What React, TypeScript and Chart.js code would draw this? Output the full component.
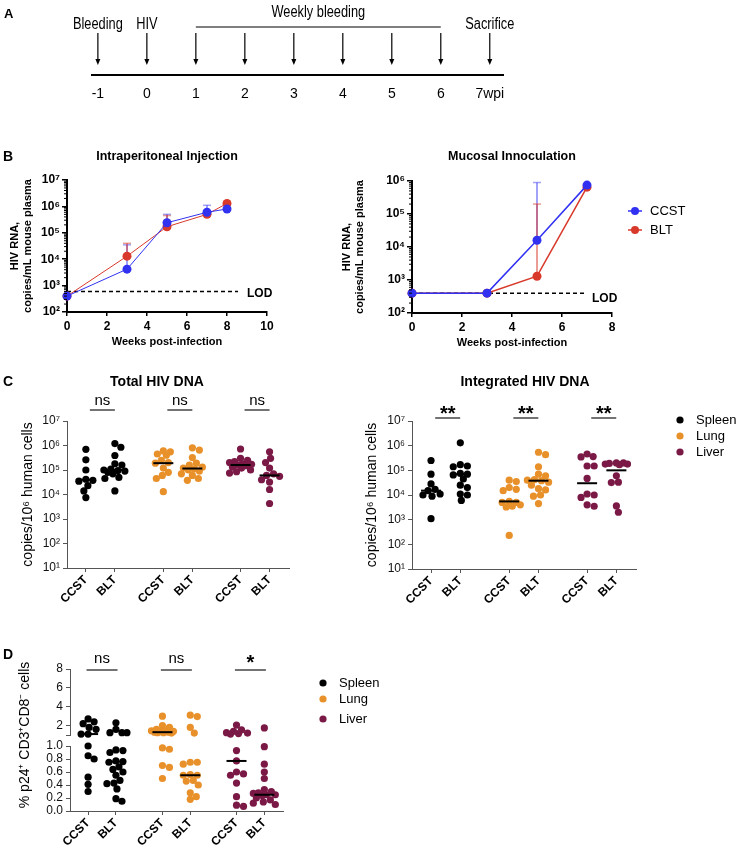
import React, { useEffect, useRef } from 'react';
import { Chart, registerables } from 'chart.js';
Chart.register(...registerables);

const W = 736;
const H = 849;
const SANS = '"Liberation Sans", Arial, Helvetica, sans-serif';
Chart.defaults.font.family = SANS;

// ---------------- Panel A: timeline ----------------
const timelineWeeks = [-1, 0, 1, 2, 3, 4, 5, 6, 7];
const timelineTickLabels = ['-1', '0', '1', '2', '3', '4', '5', '6', '7wpi'];
const eventWeeks = [-1, 0, 7];
const eventNames = ['Bleeding', 'HIV', 'Sacrifice'];
const weeklyRange = [1, 6];
const weeklyLabel = 'Weekly bleeding';

// ---------------- Panel B: HIV RNA ----------------
const weeksIP = [0, 3, 5, 7, 8];
const ccstIP = [400, 4200, 240000, 600000, 800000];
const bltIP = [400, 13000, 170000, 500000, 1300000];
const ccstIPUpper = [null, 35000, 500000, 1100000, null];
const bltIPUpper = [null, 40000, 450000, null, null];
const lodIP = 600;
const lodRangeIP = [0, 8.55];

const weeksMU = [0, 3, 5, 7];
const ccstMU = [400, 400, 16000, 750000];
const bltMU = [400, 400, 1300, 650000];
const ccstMUUpper = [null, null, 900000, null];
const bltMUUpper = [null, null, 200000, null];
const lodMU = 400;
const lodRangeMU = [0, 7];

// ---------------- Panels C / D: categories ----------------
const groupLabels = ['CCST', 'BLT', 'CCST', 'BLT', 'CCST', 'BLT'];
const groupPositions = [1, 2, 3.67, 4.67, 6.33, 7.33];
const tissueNames = ['Spleen', 'Lung', 'Liver'];
const tissueColors = ['#000000', '#E8902A', '#7B1946'];

// Total HIV DNA (copies / 10^6 human cells)
const totalSpleenCCST = [7e5, 2.6e5, 1e5, 4.2e4, 3.8e4, 3.5e4, 2.3e4, 1.4e4, 7.5e3];
const totalSpleenBLT = [1.2e6, 8.5e5, 3.9e5, 1.8e5, 1.6e5, 1.1e5, 1e5, 9.5e4, 9e4, 8e4, 7e4, 5e4, 4.5e4, 1.4e4];
const totalLungCCST = [6e5, 5.5e5, 4.5e5, 4e5, 2.5e5, 2e5, 1.9e5, 1.2e5, 8e4, 6e4, 4.5e4, 1.3e4];
const totalLungBLT = [8e5, 6.5e5, 3.2e5, 1.9e5, 1.6e5, 1.3e5, 1.2e5, 1.1e5, 1e5, 9e4, 7e4, 6e4, 4.5e4, 3.8e4];
const totalLiverCCST = [7.2e5, 3e5, 2.5e5, 2.2e5, 2e5, 1.8e5, 1.7e5, 1.6e5, 1.5e5, 1.3e5, 1.2e5, 1e5, 8.5e4, 7.5e4];
const totalLiverBLT = [5.5e5, 3e5, 2e5, 1.2e5, 7e4, 6e4, 5.5e4, 4e4, 3.2e4, 1.6e4, 4.3e3];
const totalMedians = [4e4, 1e5, 1.9e5, 1.15e5, 1.6e5, 6e4];
const totalSig = ['ns', 'ns', 'ns'];

// Integrated HIV DNA
const intSpleenCCST = [2.5e5, 7e4, 2.8e4, 1.7e4, 1.5e4, 1.1e4, 1e4, 9e3, 1.1e3];
const intSpleenBLT = [1.3e6, 1.7e5, 1.5e5, 1.4e5, 7.5e4, 7e4, 6.5e4, 4.5e4, 2.5e4, 2e4, 1.1e4, 1e4, 6e3];
const intLungCCST = [4e4, 3.5e4, 2e4, 1.7e4, 1.5e4, 5.5e3, 5e3, 5e3, 4e3, 3.5e3, 3.3e3, 230];
const intLungBLT = [5.4e5, 4.3e5, 1.4e5, 7e4, 6e4, 4.2e4, 4e4, 3.8e4, 3.3e4, 2.5e4, 1.8e4, 1.6e4, 1e4, 9e3, 4.5e3];
const intLiverCCST = [4.6e5, 3.6e5, 3.5e5, 1.5e5, 1.5e5, 4.7e4, 1.1e4, 1e4, 8e3, 4e3, 3.5e3];
const intLiverBLT = [2e5, 2e5, 1.9e5, 1.8e5, 1.8e5, 1.7e5, 6e4, 3.3e4, 3.2e4, 3.6e3, 2e3];
const intMedians = [1.5e4, 7e4, 5.5e3, 3.8e4, 3e4, 1e5];
const intSig = ['**', '**', '**'];

// % p24+ CD3+CD8- cells
const p24SpleenCCST = [2.7, 2.4, 2.2, 1.8, 1.6, 1.1, 1.1, 1.0, 0.85, 0.8, 0.52, 0.41, 0.3];
const p24SpleenBLT = [2.3, 1.6, 1.25, 1.25, 1.25, 0.94, 0.93, 0.9, 0.77, 0.76, 0.75, 0.68, 0.64, 0.6, 0.55, 0.47, 0.43, 0.42, 0.34, 0.19, 0.15];
const p24LungCCST = [3.0, 2.0, 1.8, 1.6, 1.5, 1.45, 1.4, 1.35, 1.3, 1.3, 1.25, 1.25, 1.2, 0.97, 0.95, 0.7, 0.67, 0.5];
const p24LungBLT = [3.1, 2.95, 1.8, 1.2, 0.75, 0.75, 0.72, 0.56, 0.55, 0.55, 0.47, 0.46, 0.4, 0.28, 0.22, 0.18];
const p24LiverCCST = [2.05, 1.55, 1.4, 1.25, 1.2, 1.15, 1.1, 0.93, 0.77, 0.6, 0.57, 0.55, 0.43, 0.22, 0.09, 0.07];
const p24LiverBLT = [1.75, 0.99, 0.72, 0.6, 0.5, 0.33, 0.3, 0.28, 0.27, 0.25, 0.25, 0.24, 0.2, 0.17, 0.14, 0.12, 0.1];
const p24Medians = [1.1, 0.76, 1.3, 0.55, 0.77, 0.25];
const p24Sig = ['ns', 'ns', '*'];
const p24UpperTicks = [1, 2, 4, 6, 8];
const p24LowerTicks = [0, 0.2, 0.4, 0.6, 0.8, 1.0];

// ---------------- styling / layout ----------------
const BLUE = '#3131F2';
const RED = '#D8392A';
const BLUE_ERR = 'rgba(49,49,242,0.45)';
const RED_ERR = 'rgba(216,57,42,0.5)';
const AXIS = '#555555';
const X_MIN = 0.35;
const X_MAX = 8.0;

const AREA_A = { left: 92, top: 27, right: 503, bottom: 75 };
const AREA_B1 = { left: 67, top: 180, right: 267, bottom: 312 };
const AREA_B2 = { left: 412, top: 181, right: 612, bottom: 313 };
const AREA_C1 = { left: 67, top: 421, right: 289, bottom: 568 };
const AREA_C2 = { left: 412, top: 421, right: 636, bottom: 569 };
const AREA_DU = { left: 70, top: 669, right: 283, bottom: 735 };
const AREA_DL = { left: 70, top: 746, right: 283, bottom: 811 };

const SUP: Record<string, string> = { '0': '⁰', '1': '¹', '2': '²', '3': '³', '4': '⁴', '5': '⁵', '6': '⁶', '7': '⁷', '8': '⁸', '9': '⁹' };
const pow10 = (v: number) => '10' + String(Math.round(Math.log10(v))).split('').map((c) => SUP[c] || c).join('');
const decades = (a: number, b: number) => {
  const out: number[] = [];
  for (let e = Math.round(Math.log10(a)); e <= Math.round(Math.log10(b)); e++) out.push(Math.pow(10, e));
  return out;
};

function padFor(a: any, yW: number, xH: number) {
  return { left: a.left - yW, top: a.top, right: W - a.right, bottom: H - a.bottom - xH };
}

function text(ctx: any, s: string, x: number, y: number, font: string, align = 'center', baseline = 'middle', color = '#000', rot = 0, sx = 1) {
  ctx.save();
  ctx.translate(x, y);
  if (rot) ctx.rotate(rot);
  if (sx !== 1) ctx.scale(sx, 1);
  ctx.font = font;
  ctx.fillStyle = color;
  ctx.textAlign = align;
  ctx.textBaseline = baseline;
  ctx.fillText(s, 0, 0);
  ctx.restore();
}

function seg(ctx: any, x1: number, y1: number, x2: number, y2: number, color: string, width: number) {
  ctx.save();
  ctx.strokeStyle = color;
  ctx.lineWidth = width;
  ctx.beginPath();
  ctx.moveTo(x1, y1);
  ctx.lineTo(x2, y2);
  ctx.stroke();
  ctx.restore();
}

function dot(ctx: any, x: number, y: number, r: number, color: string) {
  ctx.save();
  ctx.fillStyle = color;
  ctx.beginPath();
  ctx.arc(x, y, r, 0, Math.PI * 2);
  ctx.fill();
  ctx.restore();
}

// compact beeswarm: horizontal offsets (x units), limited spread, overlap allowed when crowded
function swarm(values: number[], toPx: (v: number) => number, pxPerUnit: number, d: number, maxOff: number) {
  const order = values.map((_, i) => i).sort((a, b) => values[b] - values[a]);
  const placed: { x: number; y: number }[] = [];
  const out = new Array(values.length).fill(0);
  for (const i of order) {
    const y = toPx(values[i]);
    let best = 0;
    let bestScore = -1;
    for (let k = 0; k <= maxOff * 2; k++) {
      const x = Math.ceil(k / 2) * (k % 2 === 1 ? 1 : -1);
      const md = placed.reduce((m, p) => Math.min(m, Math.hypot(p.x - x, p.y - y)), Infinity);
      if (md >= d) { best = x; bestScore = Infinity; break; }
      if (md > bestScore) { bestScore = md; best = x; }
    }
    placed.push({ x: best, y });
    out[i] = best / pxPerUnit;
  }
  return out;
}

const baseOpts = (area: any, yW: number, xH: number) => ({
  responsive: false,
  animation: false,
  events: [],
  layout: { padding: padFor(area, yW, xH) },
  plugins: { legend: { display: false }, tooltip: { enabled: false }, title: { display: false } },
});

// ---------------- Panel A ----------------
function configA() {
  return {
    type: 'scatter',
    data: { datasets: [{ data: timelineWeeks.map((w) => ({ x: w, y: 0.5 })), pointRadius: 0, showLine: false }] },
    options: {
      ...baseOpts(AREA_A, 0, 30),
      scales: {
        x: {
          type: 'linear', min: -1.12, max: 7.27,
          afterFit: (s: any) => { s.height = 30; },
          afterBuildTicks: (s: any) => { s.ticks = timelineWeeks.map((v) => ({ value: v })); },
          ticks: { callback: (_v: any, i: number) => timelineTickLabels[i], autoSkip: false, maxRotation: 0, font: { family: SANS, size: 14 }, color: '#000', padding: 11 },
          grid: { display: false, drawTicks: false },
          border: { display: true, color: '#000', width: 2 },
        },
        y: { display: false, min: 0, max: 1 },
      },
    },
    plugins: [{
      id: 'timeline',
      afterDraw(chart: any) {
        const ctx = chart.ctx;
        const a = chart.chartArea;
        const xs = chart.scales.x;
        const meta = chart.getDatasetMeta(0);
        const top = a.top + 6;
        const bot = a.bottom - 10;
        meta.data.forEach((el: any) => {
          seg(ctx, el.x, top, el.x, bot - 4, '#000', 1.2);
          ctx.save();
          ctx.fillStyle = '#000';
          ctx.beginPath();
          ctx.moveTo(el.x - 2.5, bot - 6);
          ctx.lineTo(el.x + 2.5, bot - 6);
          ctx.lineTo(el.x, bot);
          ctx.closePath();
          ctx.fill();
          ctx.restore();
        });
        const x1 = xs.getPixelForValue(weeklyRange[0]);
        const x2 = xs.getPixelForValue(weeklyRange[1]);
        seg(ctx, x1, a.top, x2, a.top, '#000', 1.2);
        text(ctx, weeklyLabel, (x1 + x2) / 2, a.top - 10, '16px ' + SANS, 'center', 'alphabetic', '#000', 0, 0.8);
        eventWeeks.forEach((w, i) => {
          text(ctx, eventNames[i], xs.getPixelForValue(w), a.top + 2, '16px ' + SANS, 'center', 'alphabetic', '#000', 0, 0.8);
        });
        text(ctx, 'A', 4, 14, 'bold 13px ' + SANS, 'left', 'middle');
      },
    }],
  };
}

// ---------------- Panel B ----------------
function configB(p: any) {
  const area = p.area;
  const mk = (vals: number[], color: string) => ({
    data: p.weeks.map((w: number, i: number) => ({ x: w, y: vals[i] })),
    borderColor: color, backgroundColor: color, pointBackgroundColor: color, pointBorderWidth: 0,
    pointRadius: p.r, borderWidth: p.lw, showLine: true, clip: false,
  });
  const datasets = [
    mk(p.ccst, BLUE),
    mk(p.blt, RED),
    {
      data: [{ x: p.lodRange[0], y: p.lod }, { x: p.lodRange[1], y: p.lod }],
      borderColor: '#000', borderWidth: 1.5, borderDash: [4, 3], pointRadius: 0, showLine: true, clip: false,
    },
  ];
  const bold12 = { family: SANS, size: 12, weight: 'bold' };
  return {
    type: 'scatter',
    data: { datasets },
    options: {
      ...baseOpts(area, 50, 30),
      scales: {
        x: {
          type: 'linear', min: 0, max: p.xMax,
          afterFit: (s: any) => { s.height = 30; },
          ticks: { stepSize: 2, font: bold12, color: '#000', padding: 3, maxRotation: 0 },
          grid: { drawOnChartArea: false, tickLength: 4, color: '#000', lineWidth: 1.5 },
          border: { color: '#000', width: 2 },
        },
        y: {
          type: 'logarithmic', min: p.yMin, max: p.yMax,
          afterFit: (s: any) => { s.width = 50; },
          afterBuildTicks: (s: any) => { s.ticks = decades(p.yMin, p.yMax).map((v) => ({ value: v })); },
          ticks: { callback: (v: any) => pow10(v), font: bold12, color: '#000', padding: 2, autoSkip: false },
          grid: { drawOnChartArea: false, tickLength: 5, color: '#000', lineWidth: 1.5 },
          border: { color: '#000', width: 2 },
        },
      },
    },
    plugins: [{
      id: 'hivDeco',
      beforeDatasetsDraw(chart: any) {
        const ctx = chart.ctx;
        const xs = chart.scales.x;
        const ys = chart.scales.y;
        const errs = [[p.ccst, p.ccstUp, BLUE_ERR], [p.blt, p.bltUp, RED_ERR]];
        errs.forEach(([vals, ups, col]: any) => {
          ups.forEach((u: number | null, i: number) => {
            if (u == null) return;
            const px = xs.getPixelForValue(p.weeks[i]);
            const py = ys.getPixelForValue(vals[i]);
            const pu = ys.getPixelForValue(u);
            seg(ctx, px, py, px, pu, col, 2);
            seg(ctx, px - 4, pu, px + 4, pu, col, 1.5);
          });
        });
      },
      afterDraw(chart: any) {
        const ctx = chart.ctx;
        const a = chart.chartArea;
        const xs = chart.scales.x;
        const ys = chart.scales.y;
        decades(p.yMin, p.yMax).slice(0, -1).forEach((d) => {
          for (let m = 2; m <= 9; m++) {
            const y = ys.getPixelForValue(d * m);
            seg(ctx, a.left - 3, y, a.left, y, '#000', 1);
          }
        });
        const cy = (a.top + a.bottom) / 2;
        text(ctx, p.title, p.titleX, 157, 'bold 12.5px ' + SANS);
        text(ctx, 'HIV RNA,', p.yTitleX[0], cy, 'bold 11px ' + SANS, 'center', 'middle', '#000', -Math.PI / 2);
        text(ctx, 'copies/mL mouse plasma', p.yTitleX[1], cy, 'bold 11px ' + SANS, 'center', 'middle', '#000', -Math.PI / 2);
        text(ctx, 'Weeks post-infection', (a.left + a.right) / 2, p.xTitleY, 'bold 11px ' + SANS);
        const lx = xs.getPixelForValue(p.lodRange[1]);
        const ly = ys.getPixelForValue(p.lod);
        text(ctx, 'LOD', lx + p.lodDx, ly + p.lodDy, 'bold 12px ' + SANS, 'left', 'middle');
        if (p.letter) text(ctx, 'B', 3, 157, 'bold 14px ' + SANS, 'left', 'middle');
        if (p.legend) {
          [['CCST', BLUE], ['BLT', RED]].forEach(([name, col], i) => {
            const y = 211 + i * 19;
            seg(ctx, 628, y, 642, y, col, 1.5);
            dot(ctx, 635, y, 4, col);
            text(ctx, name, 650, y, '13px ' + SANS, 'left', 'middle');
          });
        }
      },
    }],
  };
}

// ---------------- Panels C / D ----------------
function drawSig(chart: any, labels: string[], barY: number, half: number, dx: number, fonts: string[], dys: number[]) {
  const ctx = chart.ctx;
  const xs = chart.scales.x;
  labels.forEach((lab, g) => {
    const x1 = xs.getPixelForValue(groupPositions[2 * g]);
    const x2 = xs.getPixelForValue(groupPositions[2 * g + 1]);
    const cx = (x1 + x2) / 2 + dx;
    seg(ctx, cx - half, barY, cx + half, barY, '#444', 1.5);
    const isStar = lab.indexOf('*') >= 0;
    text(ctx, lab, cx, barY + (isStar ? dys[1] : dys[0]), isStar ? fonts[1] : fonts[0], 'center', 'alphabetic');
  });
}

function drawLegend(ctx: any, x: number, ys: number[]) {
  tissueNames.forEach((n, i) => {
    dot(ctx, x, ys[i], 3.6, tissueColors[i]);
    text(ctx, n, x + 16, ys[i], '13px ' + SANS, 'left', 'middle');
  });
}

function configDot(p: any) {
  const datasets = p.groups.map((vals: number[], g: number) => ({
    data: vals
      .map((v, i) => ({ x: groupPositions[g] + p.offsets[g][i], y: v }))
      .filter((pt) => p.filter(pt.y)),
    pointRadius: 3.6, pointBackgroundColor: tissueColors[g >> 1], backgroundColor: tissueColors[g >> 1],
    pointBorderWidth: 0, showLine: false, clip: false,
  }));
  const xH = p.showX ? 40 : 0;
  const xScale = p.showX
    ? {
      type: 'linear', min: X_MIN, max: X_MAX,
      afterFit: (s: any) => { s.height = 40; },
      afterBuildTicks: (s: any) => { s.ticks = groupPositions.map((v) => ({ value: v })); },
      ticks: { callback: (_v: any, i: number) => groupLabels[i], autoSkip: false, minRotation: 45, maxRotation: 45, font: { family: SANS, size: 12, weight: 'bold' }, color: '#000', padding: 1 },
      grid: { drawOnChartArea: false, tickLength: 4, color: AXIS, lineWidth: 1 },
      border: { color: AXIS, width: 1 },
    }
    : { type: 'linear', min: X_MIN, max: X_MAX, display: false };
  return {
    type: 'scatter',
    data: { datasets },
    options: {
      ...baseOpts(p.area, 50, xH),
      scales: {
        x: xScale,
        y: {
          type: p.yType, min: p.yMin, max: p.yMax,
          afterFit: (s: any) => { s.width = 50; },
          afterBuildTicks: (s: any) => { s.ticks = p.yTicks.map((v: number) => ({ value: v })); },
          ticks: { callback: (v: any) => p.yFmt(v), autoSkip: false, font: { family: SANS, size: p.tickSize }, color: '#111', padding: 3 },
          grid: { drawOnChartArea: false, tickLength: 4, color: AXIS, lineWidth: 1 },
          border: { color: AXIS, width: 1 },
        },
      },
    },
    plugins: [{
      id: 'dotDeco',
      afterDatasetsDraw(chart: any) {
        const xs = chart.scales.x;
        const ys = chart.scales.y;
        p.medians.forEach((m: number, g: number) => {
          if (!p.filter(m)) return;
          const px = xs.getPixelForValue(groupPositions[g]);
          const py = ys.getPixelForValue(m);
          seg(chart.ctx, px - 10, py, px + 10, py, '#000', 2);
        });
      },
      afterDraw(chart: any) {
        if (p.deco) p.deco(chart, chart.ctx);
      },
    }],
  };
}

const C_PX_PER_DECADE = (AREA_C1.bottom - AREA_C1.top) / 6;
const C_PX_PER_UNIT = (AREA_C1.right - AREA_C1.left) / (X_MAX - X_MIN);
const D_PX_PER_UNIT = (AREA_DL.right - AREA_DL.left) / (X_MAX - X_MIN);
const D_UP_PX = (AREA_DU.bottom - AREA_DU.top) / 7;
const D_LOW_PX = AREA_DL.bottom - AREA_DL.top;
const cToPx = (v: number) => -Math.log10(v) * C_PX_PER_DECADE;
const dToPx = (v: number) => (v > 1 ? -(D_LOW_PX + (AREA_DL.top - AREA_DU.bottom) + (v - 1) * D_UP_PX) : -v * D_LOW_PX);

const totalGroups = [totalSpleenCCST, totalSpleenBLT, totalLungCCST, totalLungBLT, totalLiverCCST, totalLiverBLT];
const intGroups = [intSpleenCCST, intSpleenBLT, intLungCCST, intLungBLT, intLiverCCST, intLiverBLT];
const p24Groups = [p24SpleenCCST, p24SpleenBLT, p24LungCCST, p24LungBLT, p24LiverCCST, p24LiverBLT];

function configC(left: boolean) {
  const groups = left ? totalGroups : intGroups;
  return configDot({
    area: left ? AREA_C1 : AREA_C2,
    groups,
    offsets: groups.map((g) => swarm(g, cToPx, C_PX_PER_UNIT, 6.5, 11)),
    filter: () => true,
    medians: left ? totalMedians : intMedians,
    showX: true,
    yType: 'logarithmic', yMin: 10, yMax: 1e7, yTicks: decades(10, 1e7), yFmt: pow10, tickSize: 12,
    deco: (chart: any, ctx: any) => {
      const a = chart.chartArea;
      const cy = (a.top + a.bottom) / 2;
      text(ctx, left ? 'Total HIV DNA' : 'Integrated HIV DNA', left ? 157 : 525, 382, 'bold 14px ' + SANS);
      text(ctx, 'copies/10⁶ human cells', left ? 28 : 372, cy, '14px ' + SANS, 'center', 'middle', '#000', -Math.PI / 2);
      drawSig(chart, left ? totalSig : intSig, left ? 410 : 418, 12.5, 2, ['15px ' + SANS, 'bold 20px ' + SANS], [-5, 2]);
      if (left) text(ctx, 'C', 3, 382, 'bold 14px ' + SANS, 'left', 'middle');
      else drawLegend(ctx, 680, [420, 436, 452]);
    },
  });
}

const p24Offsets = p24Groups.map((g) => swarm(g, dToPx, D_PX_PER_UNIT, 6.5, 11));

function configD(upper: boolean) {
  return configDot({
    area: upper ? AREA_DU : AREA_DL,
    groups: p24Groups,
    offsets: p24Offsets,
    filter: upper ? (v: number) => v > 1 : (v: number) => v <= 1,
    medians: p24Medians,
    showX: !upper,
    yType: 'linear',
    yMin: upper ? 1 : 0,
    yMax: upper ? 8 : 1,
    yTicks: upper ? p24UpperTicks : p24LowerTicks,
    yFmt: upper ? (v: number) => (v === 1 ? '' : String(v)) : (v: number) => v.toFixed(1),
    tickSize: 12,
    deco: (chart: any, ctx: any) => {
      if (upper) {
        drawSig(chart, p24Sig, 670, 15.5, 0, ['15px ' + SANS, 'bold 20px ' + SANS], [-7, -1.5]);
        text(ctx, 'D', 3, 655, 'bold 14px ' + SANS, 'left', 'middle');
        drawLegend(ctx, 323, [683, 699, 719]);
      } else {
        text(ctx, '% p24⁺ CD3⁺CD8⁻ cells', 25, 735, '14px ' + SANS, 'center', 'middle', '#000', -Math.PI / 2);
      }
    },
  });
}

// ---------------- React ----------------
function ChartCanvas({ make }: { make: () => any }) {
  const ref = useRef<HTMLCanvasElement>(null);
  useEffect(() => {
    const chart = new Chart(ref.current as HTMLCanvasElement, make());
    return () => chart.destroy();
  }, []);
  return (
    <canvas
      ref={ref}
      width={W}
      height={H}
      style={{ position: 'absolute', left: 0, top: 0, width: W, height: H }}
    />
  );
}

export default function App() {
  return (
    <div style={{ position: 'absolute', left: 0, top: 0, width: W, height: H, background: '#fff', overflow: 'hidden' }}>
      <ChartCanvas make={configA} />
      <ChartCanvas
        make={() => configB({
          area: AREA_B1, weeks: weeksIP, ccst: ccstIP, blt: bltIP, ccstUp: ccstIPUpper, bltUp: bltIPUpper,
          lod: lodIP, lodRange: lodRangeIP, xMax: 10, yMin: 100, yMax: 1e7, r: 4.5, lw: 1,
          title: 'Intraperitoneal Injection', titleX: 167, yTitleX: [15, 28], xTitleY: 342,
          lodDx: 9, lodDy: 2, letter: true, legend: false,
        })}
      />
      <ChartCanvas
        make={() => configB({
          area: AREA_B2, weeks: weeksMU, ccst: ccstMU, blt: bltMU, ccstUp: ccstMUUpper, bltUp: bltMUUpper,
          lod: lodMU, lodRange: lodRangeMU, xMax: 8, yMin: 100, yMax: 1e6, r: 4.5, lw: 1.5,
          title: 'Mucosal Innoculation', titleX: 512, yTitleX: [347, 360], xTitleY: 343,
          lodDx: 5, lodDy: 6, letter: false, legend: true,
        })}
      />
      <ChartCanvas make={() => configC(true)} />
      <ChartCanvas make={() => configC(false)} />
      <ChartCanvas make={() => configD(true)} />
      <ChartCanvas make={() => configD(false)} />
    </div>
  );
}
